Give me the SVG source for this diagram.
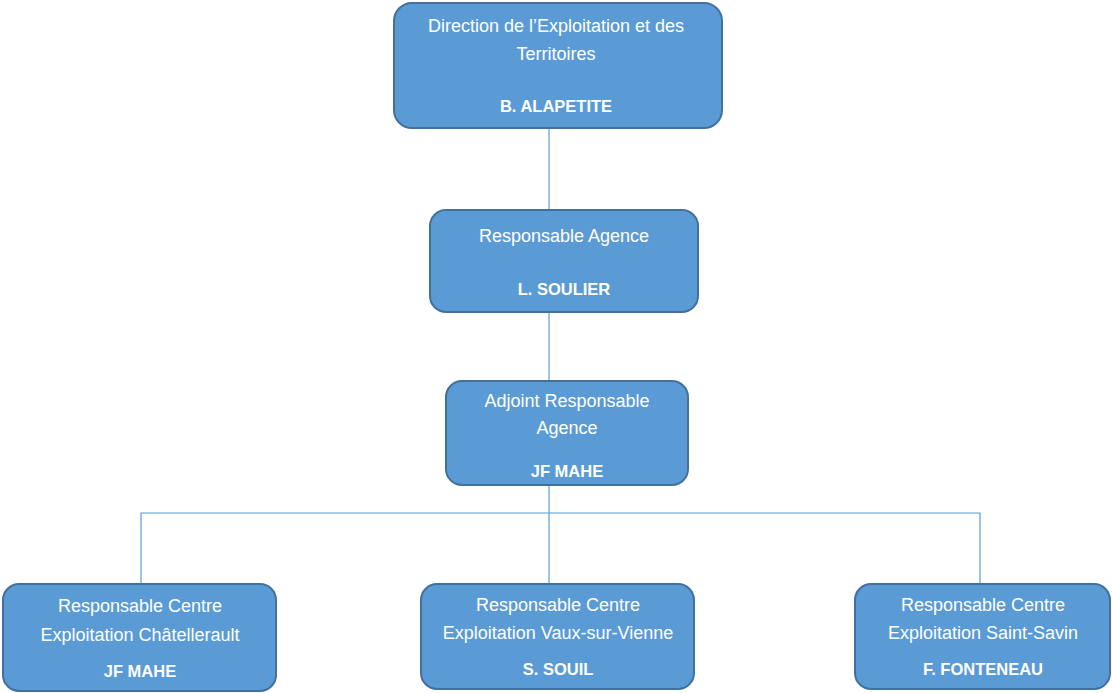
<svg xmlns="http://www.w3.org/2000/svg" width="1112" height="693" viewBox="0 0 1112 693">
<style>
.box{fill:#5B9BD5;stroke:#41719C;stroke-width:2}
.t{font-family:"Liberation Sans",Arial,sans-serif;font-size:18px;fill:#ffffff;text-anchor:middle}
.b{font-weight:bold;font-size:16.5px}
.c{stroke:#5B9BD5;stroke-width:1.2;fill:none}
</style>
<rect width="1112" height="693" fill="#ffffff"/>
<g id="connectors">
<line class="c" x1="549" y1="128" x2="549" y2="210"/>
<line class="c" x1="549" y1="312" x2="549" y2="381"/>
<line class="c" x1="549" y1="485" x2="549" y2="584"/>
<polyline class="c" points="141,584 141,513 980,513 980,584"/>
</g>
<g id="n1">
<rect class="box" x="394" y="3" width="328" height="125" rx="18"/>
<text class="t" x="556" y="32">Direction de l’Exploitation et des</text>
<text class="t" x="556" y="60">Territoires</text>
<text class="t b" x="556" y="112">B. ALAPETITE</text>
</g>
<g id="n2">
<rect class="box" x="430" y="210" width="268" height="102" rx="16"/>
<text class="t" x="564" y="242">Responsable Agence</text>
<text class="t b" x="564" y="295">L. SOULIER</text>
</g>
<g id="n3">
<rect class="box" x="446" y="381" width="242" height="104" rx="16"/>
<text class="t" x="567" y="407">Adjoint Responsable</text>
<text class="t" x="567" y="434">Agence</text>
<text class="t b" x="567" y="477">JF MAHE</text>
</g>
<g id="n4">
<rect class="box" x="3" y="584" width="273" height="107" rx="16"/>
<text class="t" x="140" y="612">Responsable Centre</text>
<text class="t" x="140" y="641">Exploitation Châtellerault</text>
<text class="t b" x="140" y="677">JF MAHE</text>
</g>
<g id="n5">
<rect class="box" x="421" y="584" width="273" height="105" rx="16"/>
<text class="t" x="558" y="611">Responsable Centre</text>
<text class="t" x="558" y="639">Exploitation Vaux-sur-Vienne</text>
<text class="t b" x="558" y="675">S. SOUIL</text>
</g>
<g id="n6">
<rect class="box" x="855" y="584" width="255" height="105" rx="16"/>
<text class="t" x="983" y="611">Responsable Centre</text>
<text class="t" x="983" y="639">Exploitation Saint-Savin</text>
<text class="t b" x="983" y="675">F. FONTENEAU</text>
</g>
</svg>
